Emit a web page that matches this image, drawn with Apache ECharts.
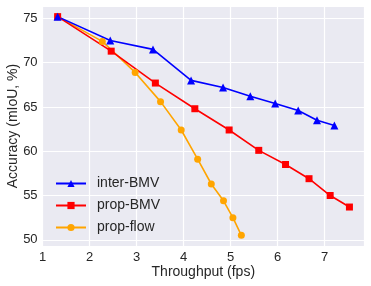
<!DOCTYPE html>
<html>
<head>
<meta charset="utf-8">
<script src="https://cdn.jsdelivr.net/npm/echarts@6/dist/echarts.min.js"></script>
<style>
html,body{margin:0;padding:0;background:#fff;}
#chart{width:371px;height:286px;}
</style>
</head>
<body>
<div id="chart"></div>
<script>
// Data
var interX = [1.32, 2.44, 3.35, 4.16, 4.84, 5.42, 5.95, 6.44, 6.84, 7.21];
var interY = [75.2, 72.5, 71.5, 68.0, 67.2, 66.2, 65.4, 64.6, 63.5, 62.9];
var propBX = [1.32, 2.46, 3.40, 4.24, 4.97, 5.60, 6.17, 6.67, 7.12, 7.53];
var propBY = [75.2, 71.3, 67.7, 64.8, 62.4, 60.1, 58.5, 56.9, 55.0, 53.7];
var flowX  = [1.32, 2.27, 2.97, 3.51, 3.95, 4.30, 4.59, 4.85, 5.05, 5.23];
var flowY  = [75.2, 72.4, 68.9, 65.6, 62.4, 59.1, 56.3, 54.4, 52.5, 50.5];
var seriesNames = ['inter-BMV', 'prop-BMV', 'prop-flow'];
var xTickLabels = ['1', '2', '3', '4', '5', '6', '7'];
var yTickLabels = ['50', '55', '60', '65', '70', '75'];

function pairs(xs, ys) { return xs.map(function (x, i) { return [x, ys[i]]; }); }

var FONT = 'Liberation Sans, Arial, sans-serif';
var TXT = '#262626';

var chart = echarts.init(document.getElementById('chart'), null, {renderer: 'canvas'});
chart.setOption({
  animation: false,
  backgroundColor: '#ffffff',
  textStyle: {fontFamily: FONT},
  grid: {
    left: 42.6, right: 7, top: 6, bottom: 40,
    containLabel: false,
    outerBoundsMode: 'none',
    show: true, backgroundColor: '#EAEAF2', borderWidth: 0
  },
  legend: {
    data: seriesNames,
    orient: 'vertical',
    left: 55, top: 176.5, padding: 0,
    itemWidth: 30, itemHeight: 9, itemGap: 8,
    textStyle: {fontFamily: FONT, fontSize: 14, color: TXT, padding: [0, 0, 0, 6]}
  },
  xAxis: {
    type: 'value',
    min: 1, max: 7.84,
    minInterval: 1, maxInterval: 1,
    name: 'Throughput (fps)',
    nameLocation: 'middle', nameGap: 19, nameMoveOverlap: false,
    nameTextStyle: {fontFamily: FONT, fontSize: 14, color: TXT},
    axisLine: {show: false}, axisTick: {show: false},
    axisLabel: {
      fontFamily: FONT, fontSize: 13, color: TXT, margin: 5,
      formatter: function (v) {
        var s = String(Math.round(v));
        return (Math.abs(v - Math.round(v)) < 1e-6 && xTickLabels.indexOf(s) >= 0) ? s : '';
      }
    },
    splitLine: {show: true, lineStyle: {color: '#ffffff', width: 1.2}}
  },
  yAxis: {
    type: 'value',
    min: 49.3, max: 76.4,
    minInterval: 5, maxInterval: 5,
    name: 'Accuracy (mIoU, %)',
    nameLocation: 'middle', nameGap: 22, nameMoveOverlap: false,
    nameTextStyle: {fontFamily: FONT, fontSize: 14, color: TXT},
    axisLine: {show: false}, axisTick: {show: false},
    axisLabel: {
      fontFamily: FONT, fontSize: 13, color: TXT, margin: 5,
      formatter: function (v) {
        var s = String(Math.round(v));
        return (Math.abs(v - Math.round(v)) < 1e-6 && yTickLabels.indexOf(s) >= 0) ? s : '';
      }
    },
    splitLine: {show: true, lineStyle: {color: '#ffffff', width: 1.2}}
  },
  series: [
    {
      name: 'prop-flow', type: 'line', data: pairs(flowX, flowY),
      symbol: 'circle', symbolSize: 7,
      lineStyle: {color: '#FFA500', width: 1.6},
      itemStyle: {color: '#FFA500'}
    },
    {
      name: 'prop-BMV', type: 'line', data: pairs(propBX, propBY),
      symbol: 'rect', symbolSize: 7,
      lineStyle: {color: '#FF0000', width: 1.6},
      itemStyle: {color: '#FF0000'}
    },
    {
      name: 'inter-BMV', type: 'line', data: pairs(interX, interY),
      symbol: 'triangle', symbolSize: 8,
      lineStyle: {color: '#0000FF', width: 1.6},
      itemStyle: {color: '#0000FF'}
    }
  ]
});
</script>
</body>
</html>
